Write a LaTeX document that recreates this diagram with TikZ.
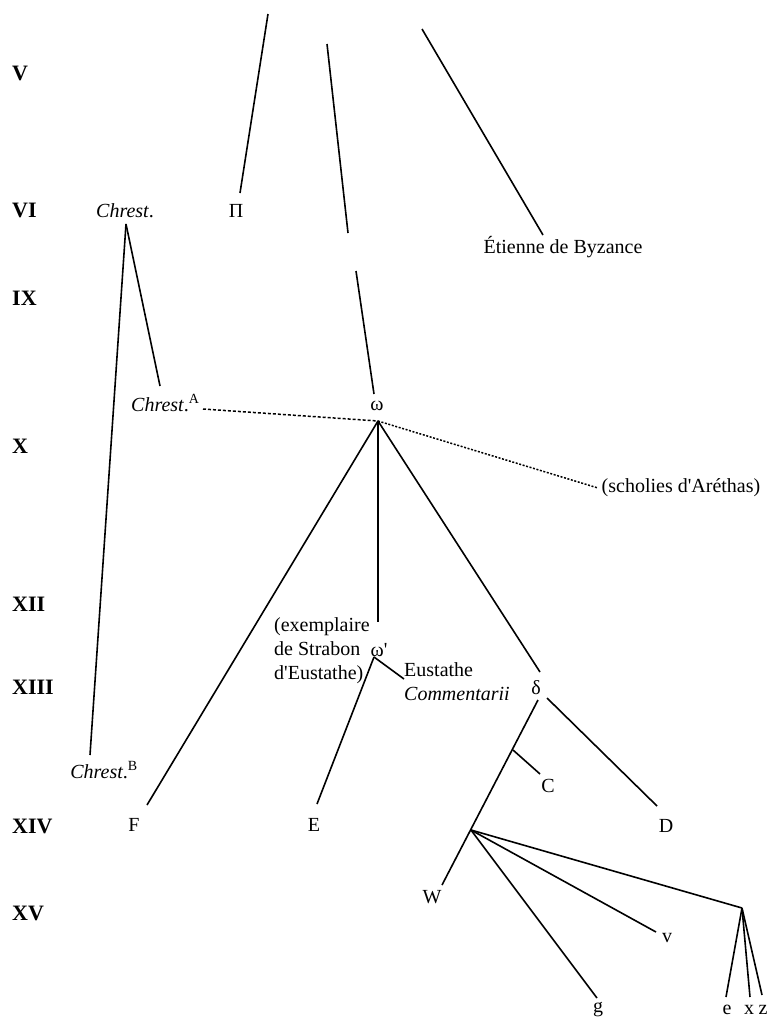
\documentclass[tikz,border=0pt]{standalone}
\usepackage{fontspec}
\setmainfont{Liberation Serif}
\newcommand{\apos}{\textquotesingle}
\begin{document}
\begin{tikzpicture}[x=1pt,y=-1pt,
  lbl/.style={inner sep=0pt, font=\fontsize{20}{24}\selectfont},
  cent/.style={inner sep=0pt, anchor=west, font=\bfseries\fontsize{22}{26}\selectfont},
  ln/.style={line width=1.6pt},
  dashln/.style={line width=1.5pt, dash pattern=on 3pt off 2pt},
  dotln/.style={line width=1.5pt, dash pattern=on 2pt off 1.6pt}]
\useasboundingbox (0,0) rectangle (767,1018);
% centuries
\node[cent] (cV)    at (12,73)  {V};
\node[cent] (cVI)   at (12,210) {VI};
\node[cent] (cIX)   at (12,298) {IX};
\node[cent] (cX)    at (12,446) {X};
\node[cent] (cXII)  at (12,604) {XII};
\node[cent] (cXIII) at (12,687) {XIII};
\node[cent] (cXIV)  at (12,826) {XIV};
\node[cent] (cXV)   at (12,913) {XV};
% manuscripts
\node[lbl] (chrest) at (125,211) {\textit{Chrest}.};
\node[lbl] (Pi) at (236,211) {Π};
\node[lbl] (etienne) at (563,247) {Étienne de Byzance};
\node[lbl, anchor=base west] (chrestA) at (131,411) {\textit{Chrest}.\textsuperscript{A}};
\node[lbl] (omega) at (377,406) {ω};
\node[lbl] (scholies) at (681,488) {(scholies d\apos Aréthas)};
\node[lbl] (chrestB) at (104,770) {\textit{Chrest}.\textsuperscript{B}};
\node[lbl, anchor=west, align=left] (exempl) at (274,651) {(exemplaire\\de Strabon\\d\apos Eustathe)};
\node[lbl] (omegap) at (379,650) {ω\apos};
\node[lbl, anchor=west, align=left] (eust) at (404,682) {Eustathe\\\textit{Commentarii}};
\node[lbl] (delta) at (536,688) {δ};
\node[lbl] (F) at (134,825) {F};
\node[lbl] (E) at (314,825) {E};
\node[lbl] (C) at (548,786) {C};
\node[lbl] (D) at (666,826) {D};
\node[lbl] (W) at (432,897) {W};
\node[lbl] (v) at (667,938) {v};
\node[lbl] (g) at (598,1010) {g};
\node[lbl] (e) at (727,1010) {e};
\node[lbl] (x) at (749,1010) {x};
\node[lbl] (z) at (763,1010) {z};
% connector points
\coordinate (t1) at (268,14);
\coordinate (t2) at (327,44);
\coordinate (t3) at (422,29);
\coordinate (t2b) at (348,233);
\coordinate (t2c) at (356,271);
\coordinate (PiT) at (240,193);
\coordinate (etT) at (543,235);
\coordinate (omT) at (374,394);
\coordinate (omB) at (378,421);
\coordinate (chA) at (126,224);
\coordinate (chAT) at (160,386);
\coordinate (chBT) at (90,755);
\coordinate (chAR) at (203,409);
\coordinate (schL) at (598,488);
\coordinate (FT) at (147,805);
\coordinate (opT) at (378,622);
\coordinate (opB) at (374,657);
\coordinate (ET) at (317,804);
\coordinate (euL) at (404,679);
\coordinate (dT) at (540,672);
\coordinate (dBL) at (538,700);
\coordinate (dBR) at (547,698);
\coordinate (DT) at (657,806);
\coordinate (Cb) at (513,750);
\coordinate (CT) at (540,774);
\coordinate (WT) at (442,885);
\coordinate (fork) at (471,830);
\coordinate (vT) at (656,932);
\coordinate (gT) at (597,998);
\coordinate (exz) at (742,908);
\coordinate (eT) at (726,997);
\coordinate (xT) at (750,997);
\coordinate (zT) at (762,995);
% connectors
\draw[ln] (t1) -- (PiT);
\draw[ln] (t2) -- (t2b);
\draw[ln] (t2c) -- (omT);
\draw[ln] (t3) -- (etT);
\draw[ln] (chA) -- (chAT);
\draw[ln] (chA) -- (chBT);
\draw[dashln] (chAR) -- (omB);
\draw[dotln] (omB) -- (schL);
\draw[ln] (omB) -- (FT);
\draw[ln] (omB) -- (opT);
\draw[ln] (omB) -- (dT);
\draw[ln] (opB) -- (ET);
\draw[ln] (opB) -- (euL);
\draw[ln] (dBL) -- (WT);
\draw[ln] (dBR) -- (DT);
\draw[ln] (Cb) -- (CT);
\draw[ln] (fork) -- (gT);
\draw[ln] (fork) -- (vT);
\draw[ln] (fork) -- (exz);
\draw[ln] (exz) -- (eT);
\draw[ln] (exz) -- (xT);
\draw[ln] (exz) -- (zT);
\end{tikzpicture}
\end{document}
